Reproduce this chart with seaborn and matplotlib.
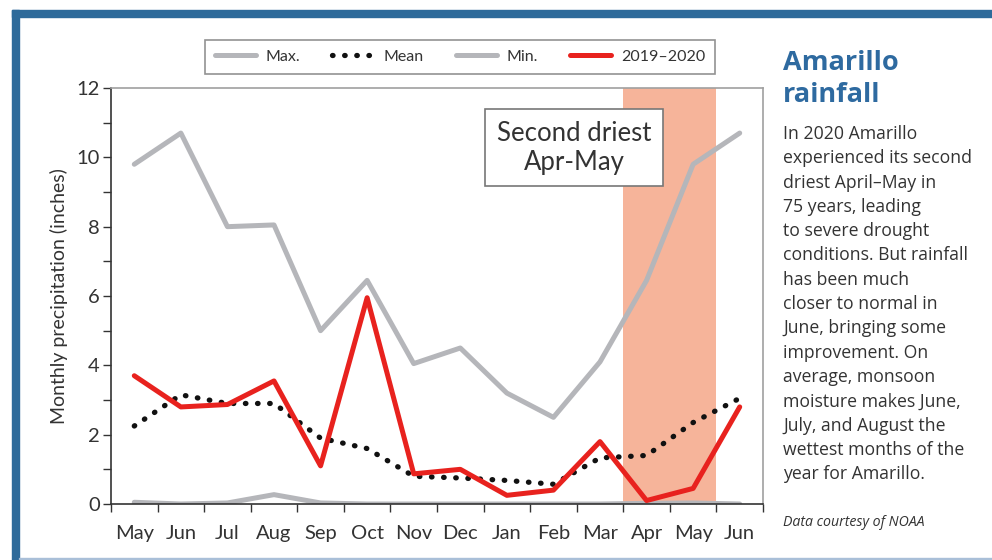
import matplotlib
matplotlib.use("Agg")
import matplotlib.pyplot as plt
import seaborn as sns
import pandas as pd
from matplotlib.patches import Rectangle
from matplotlib.lines import Line2D

months = ["May", "Jun", "Jul", "Aug", "Sep", "Oct", "Nov", "Dec",
          "Jan", "Feb", "Mar", "Apr", "May", "Jun"]
max_vals = [9.8, 10.7, 8.0, 8.05, 5.0, 6.45, 4.05, 4.5, 3.2, 2.5, 4.1, 6.45, 9.8, 10.7]
mean_vals = [2.25, 3.15, 2.9, 2.9, 1.9, 1.6, 0.8, 0.75, 0.68, 0.57, 1.33, 1.4, 2.35, 3.05]
min_vals = [0.05, 0.0, 0.03, 0.27, 0.03, 0.0, 0.0, 0.0, 0.0, 0.0, 0.0, 0.02, 0.03, 0.0]
y1920_vals = [3.7, 2.8, 2.87, 3.55, 1.1, 5.95, 0.87, 1.0, 0.25, 0.4, 1.8, 0.1, 0.45, 2.8]
yticks = [0, 2, 4, 6, 8, 10, 12]

sns.set_theme(style="white")
plt.rcParams['font.family'] = ['Lato', 'DejaVu Sans']

fig = plt.figure(figsize=(9.92, 5.60), dpi=100)
ax = fig.add_axes([111/992, 56/560, 652/992, 416/560])

x = list(range(len(months)))
df = pd.DataFrame({"x": x, "Max": max_vals, "Mean": mean_vals,
                   "Min": min_vals, "y1920": y1920_vals})

grey = "#b5b6ba"
red = "#e8221e"
dots = (0, (0.1, 2.2))

ax.axvspan(10.5, 12.5, color="#f6b49a", zorder=0, lw=0)
sns.lineplot(data=df, x="x", y="Max", ax=ax, color=grey, lw=3.6, zorder=2)
sns.lineplot(data=df, x="x", y="Min", ax=ax, color=grey, lw=3.6, zorder=2)
ax.plot(df["x"], df["Mean"], color="#111111", lw=3.8, linestyle=dots,
        dash_capstyle="round", zorder=3)
sns.lineplot(data=df, x="x", y="y1920", ax=ax, color=red, lw=3.6, zorder=4)

ax.set_xlim(-0.5, 13.5)
ax.set_ylim(0, 12)
ax.set_xticks([i + 0.5 for i in range(-1, 14)])
ax.set_xticklabels([])
ax.set_xticks(x, minor=True)
ax.set_xticklabels(months, minor=True, fontsize=14.5, color="#333333")
ax.tick_params(axis="x", which="major", direction="out", length=6, width=1, color="#333333", bottom=True)
ax.tick_params(axis="x", which="minor", length=0, pad=15, bottom=True)
ax.set_yticks(yticks)
ax.set_yticklabels([str(v) for v in yticks], fontsize=14.5, color="#333333")
ax.set_yticks(range(1, 12, 2), minor=True)
ax.tick_params(axis="y", which="both", direction="out", length=6, width=1, color="#333333", left=True, pad=2)
ax.set_xlabel("")
ax.set_ylabel("Monthly precipitation (inches)", fontsize=14, color="#333333", labelpad=6)

for s in ["top", "right"]:
    ax.spines[s].set_color("#a0a0a0")
    ax.spines[s].set_linewidth(1.2)
for s in ["left", "bottom"]:
    ax.spines[s].set_color("#333333")
    ax.spines[s].set_linewidth(1.2)

ax.text(0.71, 0.856, "Second driest\nApr-May", transform=ax.transAxes,
        ha="center", va="center", fontsize=18.5, color="#333333", linespacing=1.2,
        bbox=dict(boxstyle="square,pad=0.45", fc="white", ec="#777777", lw=1.2), zorder=6)

handles = [Line2D([], [], color=grey, lw=3.6),
           Line2D([], [], color="#111111", lw=3.8, linestyle=dots, dash_capstyle="round"),
           Line2D([], [], color=grey, lw=3.6),
           Line2D([], [], color=red, lw=3.6)]
leg = fig.legend(handles, ["Max.", "Mean", "Min.", "2019\u20132020"], ncol=4,
                 loc="center", bbox_to_anchor=(460/992, 1 - 57/560), frameon=True,
                 fancybox=False, edgecolor="#777777", fontsize=11.5, handlelength=2.6,
                 handletextpad=0.6, columnspacing=2.0, borderpad=0.6)
leg.get_frame().set_linewidth(1.2)
for t in leg.get_texts():
    t.set_color("#333333")

# outer frame
fig.patches.append(Rectangle((12/992, -0.01), 7/992, 1 - 10/560 + 0.01, transform=fig.transFigure,
                             color="#2e6a9a", zorder=10))
fig.patches.append(Rectangle((12/992, 1 - 17/560), 1 - 12/992, 7/560, transform=fig.transFigure,
                             color="#2e6a9a", zorder=10))
fig.patches.append(Rectangle((19/992, 1 - 559/560), 1, 1.5/560, transform=fig.transFigure,
                             color="#a9bfd8", zorder=10))

fig.text(783/992, 1 - 50/560, "Amarillo\nrainfall", ha="left", va="top", fontsize=19.5,
         fontweight="bold", color="#2e6aa0", linespacing=1.32, family=["Open Sans", "DejaVu Sans"])
body = ("In 2020 Amarillo\nexperienced its second\ndriest April\u2013May in\n75 years, leading\n"
        "to severe drought\nconditions. But rainfall\nhas been much\ncloser to normal in\n"
        "June, bringing some\nimprovement. On\naverage, monsoon\nmoisture makes June,\n"
        "July, and August the\nwettest months of the\nyear for Amarillo.")
fig.text(783/992, 1 - 125/560, body, ha="left", va="top", fontsize=12.7, color="#333333",
         linespacing=1.45, family=["Open Sans", "DejaVu Sans"])
fig.text(783/992, 1 - 523/560, "Data courtesy of NOAA", ha="left", va="center", fontsize=10.2,
         style="italic", color="#333333", family=["Open Sans", "DejaVu Sans"])

fig.savefig("out.png", dpi=100, facecolor="white")
